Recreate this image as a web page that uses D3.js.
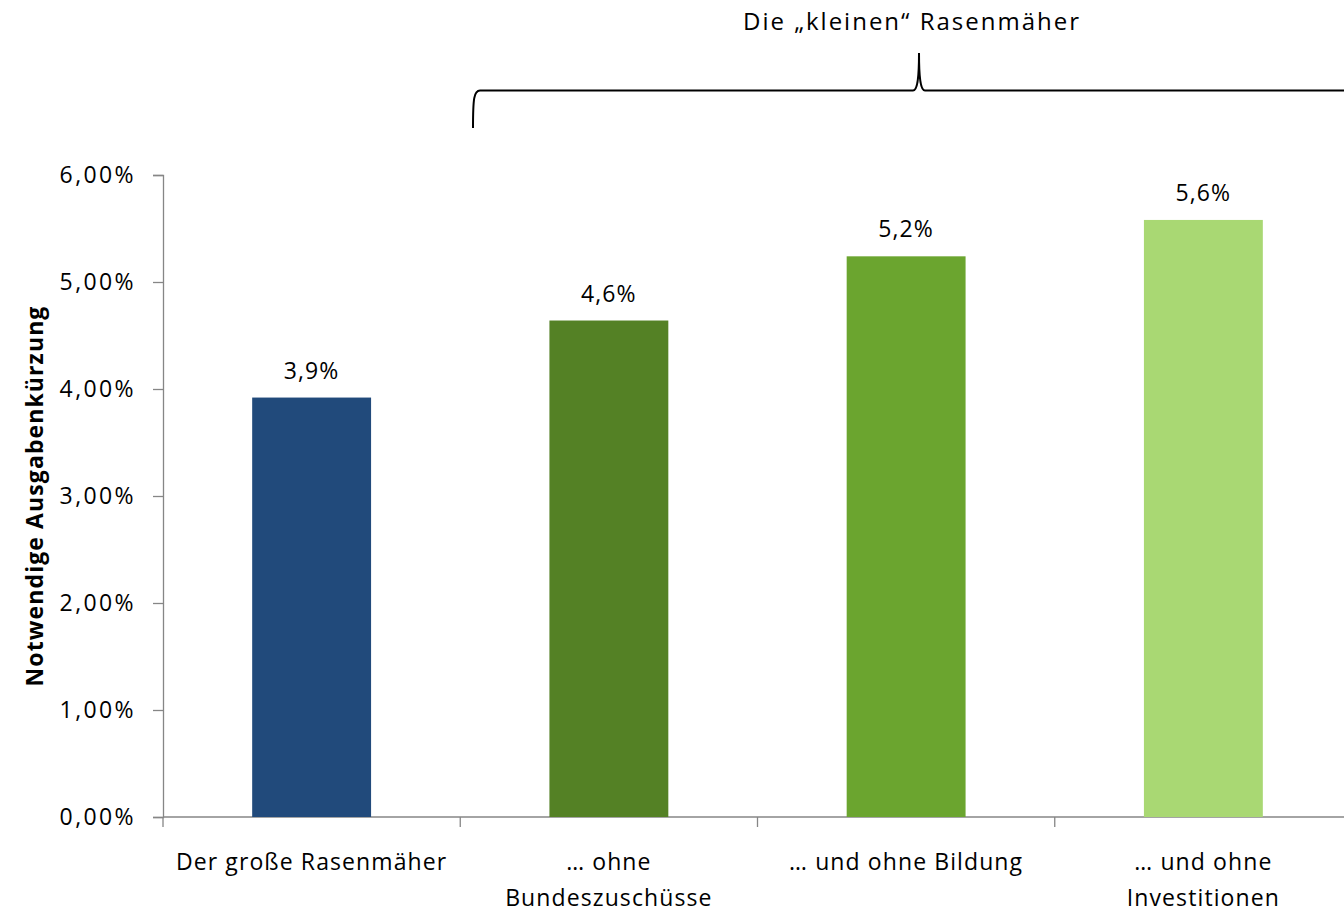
<!DOCTYPE html>
<html>
<head>
<meta charset="utf-8">
<script src="https://cdn.jsdelivr.net/npm/d3@7"></script>
<style>
  body { margin: 0; background: #fff; }
  svg { display: block; font-family: "Open Sans", sans-serif; }
</style>
</head>
<body>
<svg id="chart" width="1344" height="912"></svg>
<script>
// Categories (multi-line labels) and required spending cuts in percent
const categories = ["Der große Rasenmäher", "… ohne\nBundeszuschüsse", "… und ohne Bildung", "… und ohne\nInvestitionen"];
const values = [3.92, 4.64, 5.24, 5.58];
const barColors = ["#214a7b", "#548125", "#6ba52f", "#a9d873"];
const yTicks = [0, 1, 2, 3, 4, 5, 6];
const yTitle = "Notwendige Ausgabenkürzung";
const groupTitle = "Die „kleinen“ Rasenmäher";

const FONT = "'Open Sans', sans-serif";
const FS = "23px";
const LS = "1.1px";

const svg = d3.select("#chart");
const margin = { left: 163, right: -8, top: 175, bottom: 95 };
const W = 1344, H = 912;

const x = d3.scaleBand().domain(categories).range([margin.left, W - margin.right]).paddingInner(0).paddingOuter(0);
const y = d3.scaleLinear().domain([0, 6]).range([H - margin.bottom, margin.top]);

const axisColor = "#868686";
const fmtTick = d => d.toFixed(2).replace(".", ",") + "%";
const fmtLabel = d => d.toFixed(1).replace(".", ",") + "%";

function textStyle(sel) {
  return sel.style("font-size", FS).style("font-family", FONT).style("letter-spacing", LS).attr("fill", "#000");
}

// Y axis
const yAxis = svg.append("g")
  .attr("transform", `translate(${margin.left},0)`)
  .call(d3.axisLeft(y).tickValues(yTicks).tickFormat(fmtTick).tickSize(10).tickPadding(17));
yAxis.select(".domain").attr("stroke", axisColor).attr("stroke-width", 1.3);
yAxis.selectAll(".tick line").attr("stroke", axisColor).attr("stroke-width", 1.3);
yAxis.selectAll(".tick text").call(textStyle).style("letter-spacing", "2.4px");

// X axis with ticks at category boundaries
const xAxis = svg.append("g").attr("transform", `translate(0,${y(0)})`);
xAxis.append("line").attr("x1", margin.left).attr("x2", W).attr("y1", 0).attr("y2", 0)
  .attr("stroke", axisColor).attr("stroke-width", 1.3);
const boundaries = categories.map(c => x(c)).concat([x(categories[categories.length - 1]) + x.bandwidth()]);
xAxis.selectAll("line.tick").data(boundaries).join("line").attr("class", "tick")
  .attr("x1", d => d).attr("x2", d => d).attr("y1", 0).attr("y2", 10)
  .attr("stroke", axisColor).attr("stroke-width", 1.3);

// Category labels
categories.forEach(c => {
  const lines = c.split("\n");
  const cx = x(c) + x.bandwidth() / 2;
  const t = svg.append("text").attr("text-anchor", "middle")
    .attr("x", cx).attr("y", 870).call(textStyle);
  lines.forEach((ln, i) => t.append("tspan").attr("x", cx).attr("dy", i === 0 ? 0 : 36).text(ln));
});

// Bars
const bw = x.bandwidth() * 0.4;
svg.selectAll("rect.bar").data(values).join("rect").attr("class", "bar")
  .attr("x", (d, i) => x(categories[i]) + (x.bandwidth() - bw) / 2)
  .attr("y", d => y(d))
  .attr("width", bw)
  .attr("height", d => y(0) - y(d))
  .attr("fill", (d, i) => barColors[i]);

// Value labels
svg.selectAll("text.val").data(values).join("text").attr("class", "val")
  .attr("text-anchor", "middle")
  .attr("x", (d, i) => x(categories[i]) + x.bandwidth() / 2)
  .attr("y", d => y(d) - 19)
  .call(textStyle)
  .text(fmtLabel);

// Y axis title
svg.append("text").attr("transform", `translate(43,${(y(0) + y(6)) / 2}) rotate(-90)`)
  .attr("text-anchor", "middle").call(textStyle).style("font-weight", "bold")
  .text(yTitle);

// Curly brace grouping the smaller variants
const bx0 = 473, bxPeak = 919, bx1 = 1344, byLine = 90.5, byBottom = 128, byTop = 53;
const brace = d3.path();
brace.moveTo(bx0, byBottom);
brace.bezierCurveTo(bx0, byLine + 8, bx0 + 1, byLine, bx0 + 7, byLine);
brace.lineTo(bxPeak - 6, byLine);
brace.bezierCurveTo(bxPeak - 2, byLine, bxPeak, byLine - 10, bxPeak, byTop);
brace.bezierCurveTo(bxPeak, byLine - 10, bxPeak + 2, byLine, bxPeak + 6, byLine);
brace.lineTo(bx1, byLine);
svg.append("path").attr("d", brace.toString()).attr("fill", "none")
  .attr("stroke", "#000").attr("stroke-width", 2);

svg.append("text").attr("x", 912).attr("y", 30).attr("text-anchor", "middle")
  .call(textStyle).style("font-size", "24px").style("letter-spacing", "2px").text(groupTitle);
</script>
</body>
</html>
